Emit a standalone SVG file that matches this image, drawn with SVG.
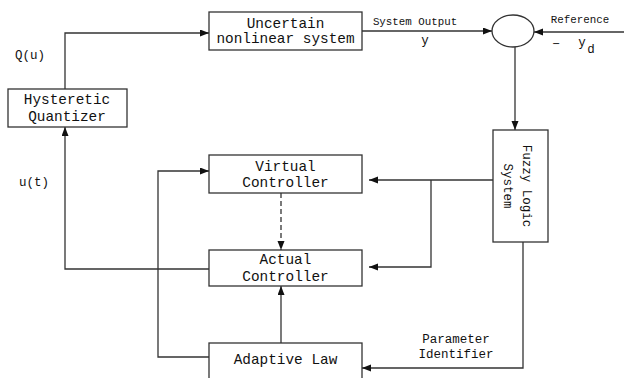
<svg xmlns="http://www.w3.org/2000/svg" width="624" height="378" viewBox="0 0 624 378">
<defs>
<marker id="ah" markerUnits="userSpaceOnUse" markerWidth="10" markerHeight="8" refX="9" refY="3.5" orient="auto">
<path d="M0,0 L9,3.5 L0,7 z" fill="#111"/>
</marker>
<style>
.box{fill:#fff;stroke:#333;stroke-width:1.3}
.t{font-family:"Liberation Mono","DejaVu Sans Mono",monospace;font-size:14.4px;fill:#111;text-anchor:middle}
.s{font-family:"Liberation Mono","DejaVu Sans Mono",monospace;font-size:10.8px;fill:#111;text-anchor:middle}
.m{font-family:"Liberation Mono","DejaVu Sans Mono",monospace;font-size:12.5px;fill:#111;text-anchor:middle}
.c{fill:none;stroke:#333;stroke-width:1.3}
.a{marker-end:url(#ah)}
</style>
</defs>
<rect width="624" height="378" fill="#fff"/>
<g id="connectors">
<path class="c a" d="M65,89 V33 H209"/>
<path class="c a" d="M362,31 H492"/>
<path class="c a" d="M624,32 H534"/>
<path class="c a" d="M515,47 V130"/>
<path class="c a" d="M493,180 H369"/>
<path class="c a" d="M431,180 V267 H369"/>
<path class="c a" d="M281,193 V250" stroke-dasharray="5,3"/>
<path class="c a" d="M209,269 H65 V127"/>
<path class="c a" d="M281,343 V286"/>
<path class="c a" d="M209,357 H158 V171 H209"/>
<path class="c a" d="M523,242 V368 H362"/>
</g>
<g id="uncertain">
<rect class="box" x="209" y="12" width="153" height="38"/>
<text class="t" x="285.5" y="28">Uncertain</text>
<text class="t" x="285.5" y="43">nonlinear system</text>
</g>
<g id="quantizer">
<rect class="box" x="8" y="89" width="119" height="38"/>
<text class="t" x="67" y="104">Hysteretic</text>
<text class="t" x="67" y="121">Quantizer</text>
</g>
<g id="sum">
<ellipse cx="513" cy="31" rx="21" ry="16" fill="#fff" stroke="#333" stroke-width="1.3"/>
</g>
<g id="fuzzy">
<rect class="box" x="493" y="130" width="55" height="112"/>
<text class="m" transform="translate(523,186) rotate(90)">Fuzzy Logic</text>
<text class="m" transform="translate(504,186) rotate(90)">System</text>
</g>
<g id="virtual">
<rect class="box" x="209" y="155" width="153" height="38"/>
<text class="t" x="285.5" y="171">Virtual</text>
<text class="t" x="285.5" y="187">Controller</text>
</g>
<g id="actual">
<rect class="box" x="209" y="250" width="153" height="36"/>
<text class="t" x="285.5" y="264">Actual</text>
<text class="t" x="285.5" y="281">Controller</text>
</g>
<g id="adaptive">
<rect class="box" x="209" y="343" width="153" height="40"/>
<text class="t" x="285.5" y="364">Adaptive Law</text>
</g>
<g id="labels">
<text class="m" x="30" y="59">Q(u)</text>
<text class="m" x="34" y="186">u(t)</text>
<text class="s" x="415" y="25">System Output</text>
<text class="m" x="425" y="44">y</text>
<text class="s" x="580" y="23">Reference</text>
<text class="m" x="556" y="48">−</text>
<text class="m" x="582" y="46">y</text>
<text class="m" x="591" y="53">d</text>
<text class="m" x="456" y="343">Parameter</text>
<text class="m" x="456" y="358">Identifier</text>
</g>
</svg>
